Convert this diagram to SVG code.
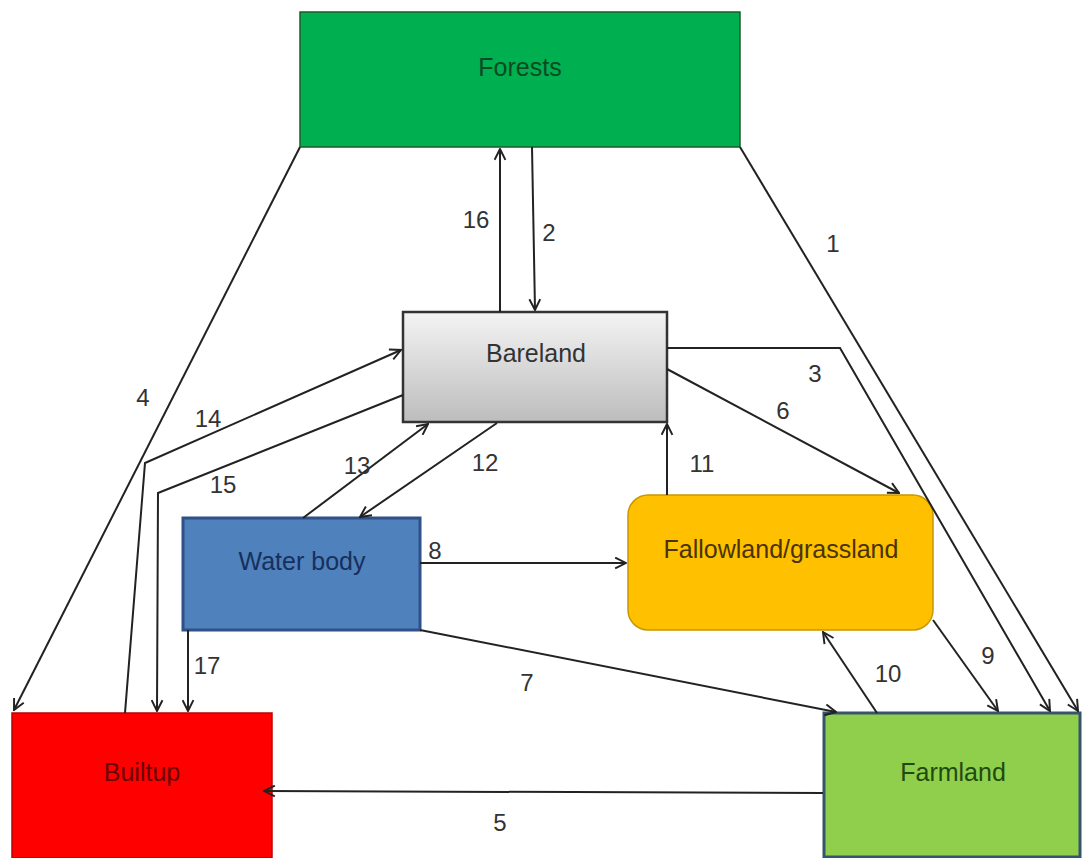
<svg xmlns="http://www.w3.org/2000/svg" width="1082" height="858" viewBox="0 0 1082 858">
<defs>
<linearGradient id="gBare" x1="0" y1="0" x2="0" y2="1">
<stop offset="0" stop-color="#f4f4f4"/>
<stop offset="1" stop-color="#bdbdbd"/>
</linearGradient>
<marker id="arr" viewBox="0 0 12 12" refX="11" refY="6" markerWidth="13" markerHeight="13" markerUnits="userSpaceOnUse" orient="auto">
<path d="M1,1 L11,6 L1,11" fill="none" stroke="#222" stroke-width="1.8"/>
</marker>
</defs>
<style>
.lbl{font-family:"Liberation Sans",Arial,sans-serif;font-size:25px;text-anchor:middle}
.num{font-family:"Liberation Sans",Arial,sans-serif;font-size:24px;fill:#333;text-anchor:middle}
.c{fill:none;stroke:#222;stroke-width:2}
</style>
<rect width="1082" height="858" fill="#fff"/>
<g id="forests">
<rect x="300" y="12" width="440" height="135" fill="#00b050" stroke="#1d5a2e" stroke-width="1.5"/>
<text class="lbl" x="520" y="76" fill="#0b4a22">Forests</text>
</g>
<g id="bareland">
<rect x="403" y="312" width="264" height="110" fill="url(#gBare)" stroke="#333" stroke-width="2.5"/>
<text class="lbl" x="536" y="362" fill="#333">Bareland</text>
</g>
<g id="waterbody">
<rect x="183" y="518" width="237" height="112" fill="#4f81bd" stroke="#2f5187" stroke-width="3"/>
<text class="lbl" x="302" y="570" fill="#16305c">Water body</text>
</g>
<g id="fallowland">
<rect x="628" y="495" width="305" height="135" rx="20" ry="20" fill="#ffc000" stroke="#c99700" stroke-width="1.5"/>
<text class="lbl" x="781" y="558" fill="#4a3300">Fallowland/grassland</text>
</g>
<g id="builtup">
<rect x="12" y="713" width="260" height="145" fill="#ff0000" stroke="#c00000" stroke-width="1.5"/>
<text class="lbl" x="142" y="781" fill="#6a0000">Builtup</text>
</g>
<g id="farmland">
<rect x="824" y="713" width="256" height="144" fill="#8fcf4c" stroke="#36546e" stroke-width="3"/>
<text class="lbl" x="953" y="781" fill="#1f4a10">Farmland</text>
</g>
<g id="connectors">
<line class="c" x1="740" y1="147" x2="1078" y2="711" marker-end="url(#arr)"/>
<line class="c" x1="532" y1="147" x2="535" y2="310" marker-end="url(#arr)"/>
<line class="c" x1="500" y1="312" x2="500" y2="149" marker-end="url(#arr)"/>
<polyline class="c" points="667,348 840,348 1050,711" marker-end="url(#arr)"/>
<line class="c" x1="300" y1="147" x2="14" y2="710" marker-end="url(#arr)"/>
<line class="c" x1="823" y1="793" x2="264" y2="791" marker-end="url(#arr)"/>
<line class="c" x1="667" y1="369" x2="899" y2="493" marker-end="url(#arr)"/>
<line class="c" x1="420" y1="630" x2="836" y2="712" marker-end="url(#arr)"/>
<line class="c" x1="420" y1="563" x2="626" y2="563" marker-end="url(#arr)"/>
<line class="c" x1="933" y1="620" x2="998" y2="711" marker-end="url(#arr)"/>
<line class="c" x1="877" y1="713" x2="823" y2="632" marker-end="url(#arr)"/>
<line class="c" x1="667" y1="495" x2="667" y2="424" marker-end="url(#arr)"/>
<line class="c" x1="497" y1="423" x2="360" y2="517" marker-end="url(#arr)"/>
<line class="c" x1="303" y1="518" x2="428" y2="424" marker-end="url(#arr)"/>
<polyline class="c" points="125,713 145,463 401,350" marker-end="url(#arr)"/>
<polyline class="c" points="403,395 158,493 157,711" marker-end="url(#arr)"/>
<line class="c" x1="188" y1="630" x2="188" y2="711" marker-end="url(#arr)"/>
<text class="num" x="833" y="252">1</text>
<text class="num" x="549" y="241">2</text>
<text class="num" x="476" y="228">16</text>
<text class="num" x="815" y="382">3</text>
<text class="num" x="143" y="406">4</text>
<text class="num" x="500" y="831">5</text>
<text class="num" x="783" y="419">6</text>
<text class="num" x="527" y="691">7</text>
<text class="num" x="435" y="559">8</text>
<text class="num" x="988" y="664">9</text>
<text class="num" x="888" y="682">10</text>
<text class="num" x="702" y="472">11</text>
<text class="num" x="485" y="471">12</text>
<text class="num" x="357" y="474">13</text>
<text class="num" x="208" y="427">14</text>
<text class="num" x="223" y="493">15</text>
<text class="num" x="207" y="674">17</text>
</g>
</svg>
